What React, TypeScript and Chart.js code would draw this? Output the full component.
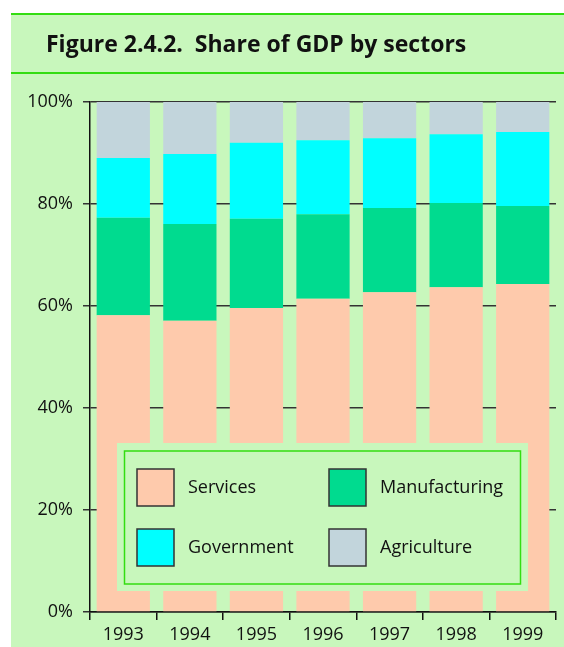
import React, { useEffect, useRef } from "react";
import { Chart, registerables } from "chart.js";

Chart.register(...registerables);

const years = ["1993", "1994", "1995", "1996", "1997", "1998", "1999"];
const services = [58.2, 57.1, 59.6, 61.4, 62.7, 63.7, 64.3];
const manufacturing = [19.1, 19.0, 17.5, 16.6, 16.5, 16.5, 15.3];
const government = [11.7, 13.7, 14.9, 14.5, 13.7, 13.5, 14.5];
const agriculture = [11.0, 10.2, 8.0, 7.5, 7.1, 6.3, 5.9];
const yTickStep = 20;

const BG = "#c8f7bc";
const LINE_GREEN = "#33dd11";
const FONT = "'Open Sans', 'DejaVu Sans', sans-serif";

const legendPlugin = {
  id: "boxLegend",
  afterDatasetsDraw(chart: any) {
    const { ctx, chartArea: ca } = chart;
    const ox = ca.left + 27;
    const oy = ca.top + 341;
    ctx.save();
    ctx.fillStyle = BG;
    ctx.fillRect(ox, oy, 411, 148);
    ctx.strokeStyle = LINE_GREEN;
    ctx.lineWidth = 1.5;
    ctx.strokeRect(ox + 7.5, oy + 8, 396, 133);
    chart.data.datasets.forEach((ds: any, i: number) => {
      const col = i % 2;
      const row = Math.floor(i / 2);
      const sx = ox + 20 + col * 192;
      const sy = oy + 26 + row * 60;
      ctx.fillStyle = ds.backgroundColor;
      ctx.fillRect(sx, sy, 37, 37);
      ctx.strokeStyle = "#333";
      ctx.lineWidth = 1.5;
      ctx.strokeRect(sx, sy, 37, 37);
      ctx.fillStyle = "#111";
      ctx.font = `18px ${FONT}`;
      ctx.textBaseline = "middle";
      ctx.textAlign = "left";
      ctx.fillText(ds.label, sx + 51, sy + 19);
    });
    ctx.restore();
  },
};

export default function App() {
  const ref = useRef<HTMLCanvasElement>(null);
  useEffect(() => {
    if (!ref.current) return;
    const chart = new Chart(ref.current, {
      type: "bar",
      data: {
        labels: years,
        datasets: [
          { label: "Services", data: services, backgroundColor: "#fecaac" },
          { label: "Manufacturing", data: manufacturing, backgroundColor: "#00db8f" },
          { label: "Government", data: government, backgroundColor: "#00ffff" },
          { label: "Agriculture", data: agriculture, backgroundColor: "#c2d5dc" },
        ],
      },
      options: {
        responsive: false,
        animation: false,
        datasets: { bar: { barPercentage: 0.8, categoryPercentage: 1.0 } },
        layout: { padding: { top: 102, right: 8, left: 0, bottom: 0 } },
        plugins: { legend: { display: false }, tooltip: { enabled: false } },
        scales: {
          x: {
            stacked: true,
            grid: { offset: true, drawOnChartArea: false, tickLength: 8, color: "#111", lineWidth: 1.5 },
            border: { color: "#111", width: 1.5 },
            ticks: { font: { family: FONT, size: 18 }, color: "#111", padding: 4 },
            afterFit: (s: any) => { s.height = 35; },
          },
          y: {
            stacked: true,
            min: 0,
            max: 100,
            ticks: {
              stepSize: yTickStep,
              callback: (v: any) => v + "%",
              font: { family: FONT, size: 18 },
              color: "#111",
              padding: 10,
            },
            grid: { color: "#333", lineWidth: 1.5, tickLength: 7 },
            border: { color: "#111", width: 1.5 },
            afterFit: (s: any) => { s.width = 90; },
          },
        },
      },
      plugins: [legendPlugin],
    });
    return () => chart.destroy();
  }, []);

  return (
    <div style={{ position: "fixed", left: 0, top: 0, width: 564, height: 647, background: "#fff" }}>
      <div style={{ position: "absolute", left: 11, top: 14, right: 0, bottom: 0, background: BG }} />
      <div style={{ position: "absolute", left: 11, top: 13, right: 0, height: 2, background: LINE_GREEN }} />
      <div style={{ position: "absolute", left: 11, top: 72, right: 0, height: 2, background: LINE_GREEN }} />
      <canvas ref={ref} width={564} height={647} style={{ position: "absolute", left: 0, top: 0 }} />
      <div
        style={{
          position: "absolute",
          left: 46,
          top: 32,
          fontFamily: FONT,
          fontWeight: 700,
          fontSize: 23,
          lineHeight: "23px",
          whiteSpace: "pre",
          color: "#111",
          zIndex: 2,
        }}
      >
        {"Figure 2.4.2.  Share of GDP by sectors"}
      </div>
    </div>
  );
}
